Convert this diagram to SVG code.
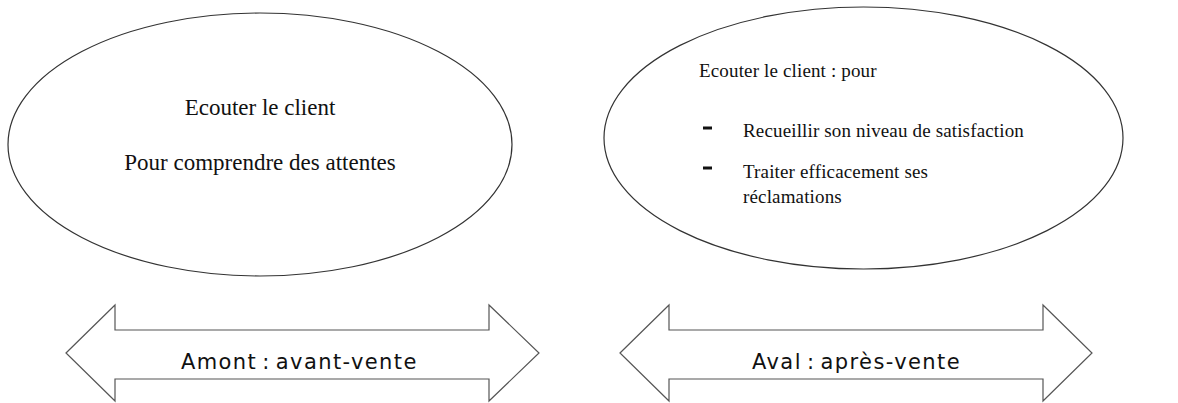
<svg xmlns="http://www.w3.org/2000/svg" width="1178" height="403" viewBox="0 0 1178 403">
  <style>
    .bubble { fill: #ffffff; stroke: #333333; stroke-width: 1.2; }
    .band { fill: #ffffff; stroke: #555555; stroke-width: 1.2; stroke-linejoin: miter; }
    .serif { font-family: "Liberation Serif", "DejaVu Serif", serif; fill: #111111; }
    .big { font-size: 23px; }
    .small { font-size: 19px; letter-spacing: 0.15px; }
    .sans { font-family: "DejaVu Sans", "Liberation Sans", sans-serif; font-size: 21px; fill: #111111; letter-spacing: 1.4px; word-spacing: -3px; }
    .dash { stroke: #111111; stroke-width: 3; }
  </style>
  <rect width="1178" height="403" fill="#ffffff"/>

  <!-- Left bubble: before-sale listening -->
  <g id="node-amont-bubble">
    <ellipse class="bubble" cx="260" cy="144.5" rx="252" ry="131.5"/>
    <text class="serif big" x="260" y="115" text-anchor="middle">Ecouter le client</text>
    <text class="serif big" x="260" y="170" text-anchor="middle">Pour comprendre des attentes</text>
  </g>

  <!-- Right bubble: after-sale listening -->
  <g id="node-aval-bubble">
    <ellipse class="bubble" cx="863.5" cy="138" rx="259.5" ry="131"/>
    <text class="serif small" x="699" y="77">Ecouter le client : pour</text>
    <line class="dash" x1="703" y1="128" x2="712" y2="128"/>
    <text class="serif small" x="743" y="137">Recueillir son niveau de satisfaction</text>
    <line class="dash" x1="703" y1="168" x2="712" y2="168"/>
    <text class="serif small" x="743" y="178">Traiter efficacement ses</text>
    <text class="serif small" x="743" y="203">réclamations</text>
  </g>

  <!-- Double-headed band arrows -->
  <g id="connectors">
    <g id="node-amont-arrow">
      <path class="band" d="M66,353 L115,305 L115,330 L489,330 L489,305 L539,353 L489,401 L489,379 L115,379 L115,401 Z"/>
      <text class="sans" x="181" y="369">Amont : avant-vente</text>
    </g>
    <g id="node-aval-arrow">
      <path class="band" d="M620,353 L669,305 L669,330 L1043,330 L1043,305 L1092,353 L1043,401 L1043,379 L669,379 L669,401 Z"/>
      <text class="sans" x="752" y="369" letter-spacing="1.2">Aval : après-vente</text>
    </g>
  </g>
</svg>
